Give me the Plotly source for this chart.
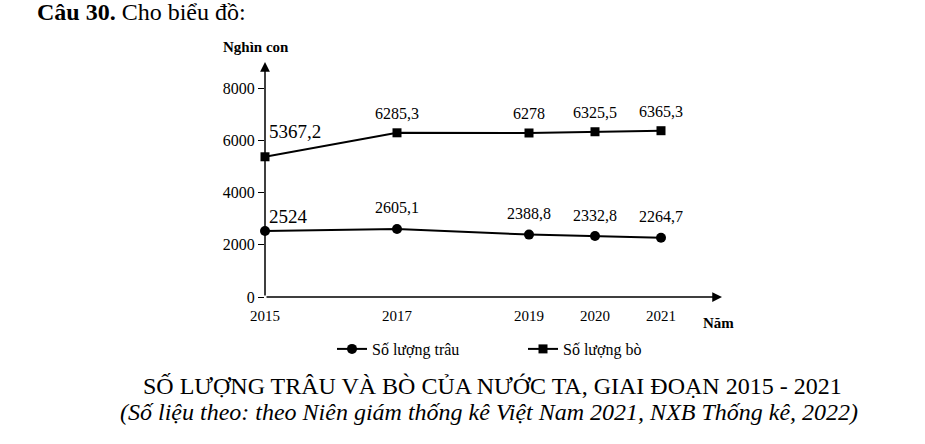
import plotly.graph_objects as go

years = [2015, 2017, 2019, 2020, 2021]
trau = [2524, 2605.1, 2388.8, 2332.8, 2264.7]
bo = [5367.2, 6285.3, 6278, 6325.5, 6365.3]
y_ticks = [0, 2000, 4000, 6000, 8000]

FONT = "Liberation Serif, Times New Roman, serif"
W, H = 925, 444
L, R, T, B = 265, 722, 62, 297  # plot area in pixels
X_MAX = 2015 + (R - L) / 66.0
Y_MAX = (B - T) / 0.026125


def paper(px, py):
    return (px - L) / (R - L), (B - py) / (B - T)


def fmt(v):
    return f"{v:g}".replace(".", ",")


fig = go.Figure()
fig.add_trace(go.Scatter(
    x=years, y=trau, name="Số lượng trâu", mode="lines+markers",
    line=dict(color="black", width=2),
    marker=dict(symbol="circle", size=10, color="black"),
    cliponaxis=False,
))
fig.add_trace(go.Scatter(
    x=years, y=bo, name="Số lượng bò", mode="lines+markers",
    line=dict(color="black", width=2),
    marker=dict(symbol="square", size=9, color="black"),
    cliponaxis=False,
))

annotations = []
# data labels
for i, (yr, v) in enumerate(zip(years, trau)):
    first = i == 0
    annotations.append(dict(
        x=yr, y=v, text=fmt(v), showarrow=False,
        xshift=23 if first else 0, yshift=15 if first else 21,
        font=dict(family=FONT, size=19 if first else 16, color="black"),
    ))
for i, (yr, v) in enumerate(zip(years, bo)):
    first = i == 0
    annotations.append(dict(
        x=yr, y=v, text=fmt(v), showarrow=False,
        xshift=30 if first else 0, yshift=25 if first else 19,
        font=dict(family=FONT, size=19 if first else 16, color="black"),
    ))

# axis arrows
annotations.append(dict(x=X_MAX, y=0, ax=2015, ay=0, axref="x", ayref="y",
                        xref="x", yref="y", showarrow=True, arrowhead=2,
                        arrowsize=1.3, arrowwidth=1.5, arrowcolor="black", text=""))
annotations.append(dict(x=2015, y=Y_MAX, ax=2015, ay=0, axref="x", ayref="y",
                        xref="x", yref="y", showarrow=True, arrowhead=2,
                        arrowsize=1.3, arrowwidth=1.5, arrowcolor="black", text=""))


def text_at(px, py, text, size, anchor="center", bold=False, italic=False):
    x, y = paper(px, py)
    if bold:
        text = f"<b>{text}</b>"
    if italic:
        text = f"<i>{text}</i>"
    annotations.append(dict(
        x=x, y=y, xref="paper", yref="paper", text=text, showarrow=False,
        xanchor=anchor, yanchor="middle",
        font=dict(family=FONT, size=size, color="black"),
    ))


text_at(35, 12, "<b>Câu 30.</b> Cho biểu đồ:", 24, anchor="left")
text_at(256, 47, "Nghìn con", 15, bold=True)
text_at(718, 323, "Năm", 15, bold=True)
text_at(492, 386, "SỐ LƯỢNG TRÂU VÀ BÒ CỦA NƯỚC TA, GIAI ĐOẠN 2015 - 2021", 24)
text_at(489, 412, "(Số liệu theo: theo Niên giám thống kê Việt Nam 2021, NXB Thống kê, 2022)", 24, italic=True)

lx, ly = paper(332, 349)
fig.update_layout(
    width=W, height=H,
    margin=dict(l=L, r=W - R, t=T, b=H - B, pad=0),
    paper_bgcolor="white", plot_bgcolor="white",
    font=dict(family=FONT, size=16, color="black"),
    showlegend=True,
    legend=dict(orientation="h", x=lx, y=ly, xanchor="left", yanchor="middle",
                font=dict(family=FONT, size=16, color="black"),
                entrywidth=146, entrywidthmode="pixels", tracegroupgap=0),
    xaxis=dict(range=[2015, X_MAX], tickvals=years, ticktext=[str(y) for y in years],
               showgrid=False, zeroline=False, showline=False, ticks="",
               tickfont=dict(family=FONT, size=15, color="black"), ticklabelstandoff=8),
    yaxis=dict(range=[0, Y_MAX], tickvals=y_ticks, showgrid=False, zeroline=False,
               showline=False, ticks="outside", ticklen=6, tickwidth=1, tickcolor="black",
               tickfont=dict(family=FONT, size=16, color="black")),
    annotations=annotations,
)

# drop the browser's default body margin so the figure sits at the page corner
fig.write_html("out.html", config={"displayModeBar": False},
               post_script="document.body.style.margin='0';")
